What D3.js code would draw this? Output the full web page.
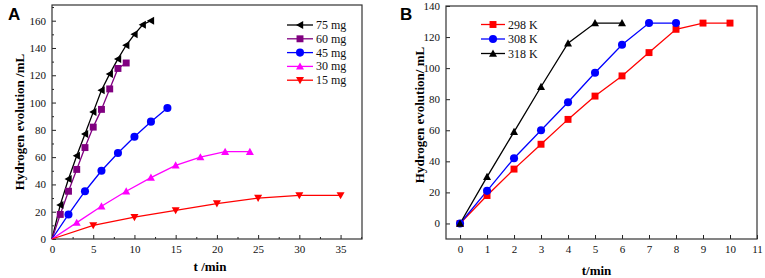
<!DOCTYPE html>
<html><head><meta charset="utf-8">
<script src="https://cdn.jsdelivr.net/npm/d3@7"></script>
<style>body{margin:0;background:#fff}svg{display:block}</style>
</head><body>
<svg id="c" width="765" height="278"></svg>
<script>
// Panel A data
const tA75 = [1,2,3,4,5,6,7,8,9,10,11,12];
const vA75 = [25,44,61,77,93,109,121,132,142,150,157,160];
const tA60 = [1,2,3,4,5,6,7,8,9];
const vA60 = [18,35,51,67,82,95,110,125,129];
const tA45 = [2,4,6,8,10,12,14];
const vA45 = [18,35,50,63,75,86,96];
const tA30 = [3,6,9,12,15,18,21,24];
const vA30 = [12,24,35,45,54,60,64,64];
const tA15 = [5,10,15,20,25,30,35];
const vA15 = [10,16,21,26,30,32,32];
const labelsA = ["75 mg","60 mg","45 mg","30 mg","15 mg"];
const xTicksA = [0,5,10,15,20,25,30,35];
const yTicksA = [0,20,40,60,80,100,120,140,160];
// Panel B data
const tB = [0,1,2,3,4,5,6,7,8,9,10];
const vB298 = [0,18,35,51,67,82,95,110,125,129,129];
const vB308 = [0,21,42,60,78,97,115,129,129];
const vB318 = [0,30,59,88,116,129,129];
const labelsB = ["298 K","308 K","318 K"];
const xTicksB = [0,1,2,3,4,5,6,7,8,9,10,11];
const yTicksB = [0,20,40,60,80,100,120,140];

const svg = d3.select("#c");
const serif = "'Liberation Serif','Times New Roman',serif";

function sym(type, size){
  const s = size;
  if(type==="circle") return d3.symbol(d3.symbolCircle, s*s*0.8)();
  if(type==="square") return d3.symbol(d3.symbolSquare, s*s*0.75)();
  const h = s/2;
  if(type==="up") return `M0,${-h}L${h},${h*0.8}L${-h},${h*0.8}Z`;
  if(type==="down") return `M0,${h}L${h},${-h*0.8}L${-h},${-h*0.8}Z`;
  if(type==="left") return `M${-h},0L${h*0.8},${-h}L${h*0.8},${h}Z`;
}

function panel(opt){
  const g = svg.append("g");
  const x = d3.scaleLinear().domain(opt.xd).range([opt.l, opt.r]);
  const y = d3.scaleLinear().domain(opt.yd).range([opt.b, opt.t]);
  // minor ticks
  const ax = d3.axisBottom(x).tickValues(opt.xt).tickSize(-4).tickPadding(6).tickFormat(d3.format("d"));
  const ay = d3.axisLeft(y).tickValues(opt.yt).tickSize(-4).tickPadding(6).tickFormat(d3.format("d"));
  const gx = g.append("g").attr("transform",`translate(0,${opt.b})`).call(ax);
  const gy = g.append("g").attr("transform",`translate(${opt.l},0)`).call(ay);
  if(opt.xm){
    g.append("g").attr("transform",`translate(0,${opt.b})`)
      .call(d3.axisBottom(x).tickValues(opt.xm).tickSize(-2).tickFormat(""));
  }
  if(opt.ym){
    g.append("g").attr("transform",`translate(${opt.l},0)`)
      .call(d3.axisLeft(y).tickValues(opt.ym).tickSize(-2).tickFormat(""));
  }
  g.selectAll(".domain").remove();
  g.selectAll(".tick line").attr("stroke","#222");
  g.selectAll(".tick text").attr("font-family",serif).attr("font-size",11).attr("fill","#111");
  g.append("rect").attr("x",opt.l).attr("y",opt.t).attr("width",opt.r-opt.l).attr("height",opt.b-opt.t)
    .attr("fill","none").attr("stroke","#333").attr("stroke-width",1.2);
  const line = d3.line().x(d=>x(d[0])).y(d=>y(d[1]));
  opt.series.forEach(s=>{
    const pts = s.t.map((t,i)=>[t,s.v[i]]);
    const lp = s.origin ? [[0,0]].concat(pts) : pts;
    g.append("path").attr("d",line(lp)).attr("fill","none").attr("stroke",s.c).attr("stroke-width",1.3);
  });
  opt.series.forEach(s=>{
    s.t.forEach((t,i)=>{
      g.append("path").attr("d",sym(s.m, s.sz||8)).attr("fill",s.c)
        .attr("transform",`translate(${x(t)},${y(s.v[i])})`);
    });
  });
  // legend
  opt.series.forEach((s,i)=>{
    const ly = opt.leg.y + i*opt.leg.dy;
    g.append("line").attr("x1",opt.leg.x1).attr("x2",opt.leg.x2).attr("y1",ly).attr("y2",ly)
      .attr("stroke",s.c).attr("stroke-width",1.3);
    g.append("path").attr("d",sym(s.m, s.sz||8)).attr("fill",s.c)
      .attr("transform",`translate(${(opt.leg.x1+opt.leg.x2)/2},${ly})`);
    g.append("text").attr("x",opt.leg.x2+3).attr("y",ly+4).text(s.label)
      .attr("font-family",serif).attr("font-size",12).attr("fill","#111");
  });
  // titles
  g.append("text").attr("x",(opt.l+opt.r)/2+opt.xtOff).attr("y",opt.xtY).attr("text-anchor","middle")
    .attr("font-family",serif).attr("font-weight","bold").attr("font-size",13).text(opt.xtitle);
  g.append("text").attr("transform",`translate(${opt.ytX},${opt.ytY}) rotate(-90)`).attr("text-anchor","middle")
    .attr("font-family",serif).attr("font-weight","bold").attr("font-size",13).text(opt.ytitle);
  g.append("text").attr("x",opt.lab[0]).attr("y",opt.lab[1]).text(opt.lab[2])
    .attr("font-family","'Liberation Sans',Arial,sans-serif").attr("font-weight","bold").attr("font-size",17);
}

panel({
  l:52, r:362, t:5, b:239, xd:[0,37.6], yd:[0,171.5],
  xt:xTicksA, yt:yTicksA,
  xm:[2.5,7.5,12.5,17.5,22.5,27.5,32.5,37.5], ym:[10,30,50,70,90,110,130,150,170],
  series:[
    {t:tA75,v:vA75,c:"#000000",m:"left",label:labelsA[0],origin:true},
    {t:tA60,v:vA60,c:"#800080",m:"square",label:labelsA[1],origin:true},
    {t:tA45,v:vA45,c:"#0000ff",m:"circle",label:labelsA[2],origin:true},
    {t:tA30,v:vA30,c:"#ff00ff",m:"up",label:labelsA[3],origin:true},
    {t:tA15,v:vA15,c:"#ff0000",m:"down",label:labelsA[4],origin:true}
  ],
  leg:{x1:287,x2:313,y:25,dy:13.8},
  xtitle:"t /min", xtY:271, xtOff:3,
  ytitle:"Hydrogen evolution /mL", ytX:24, ytY:122,
  lab:[8,20,"A"]
});
panel({
  l:446, r:757, t:6, b:239, xd:[-0.52,11], yd:[-10,140],
  xt:xTicksB, yt:yTicksB,
  series:[
    {t:tB.slice(0,vB298.length),v:vB298,c:"#ff0000",m:"square",label:labelsB[0]},
    {t:tB.slice(0,vB308.length),v:vB308,c:"#0000ff",m:"circle",label:labelsB[1]},
    {t:tB.slice(0,vB318.length),v:vB318,c:"#000000",m:"up",label:labelsB[2]}
  ],
  leg:{x1:481,x2:505,y:24.5,dy:14.5},
  xtitle:"t/min", xtY:275, xtOff:-5,
  ytitle:"Hydrogen evolution/ mL", ytX:424, ytY:115,
  lab:[400,20,"B"]
});
</script>
</body></html>
